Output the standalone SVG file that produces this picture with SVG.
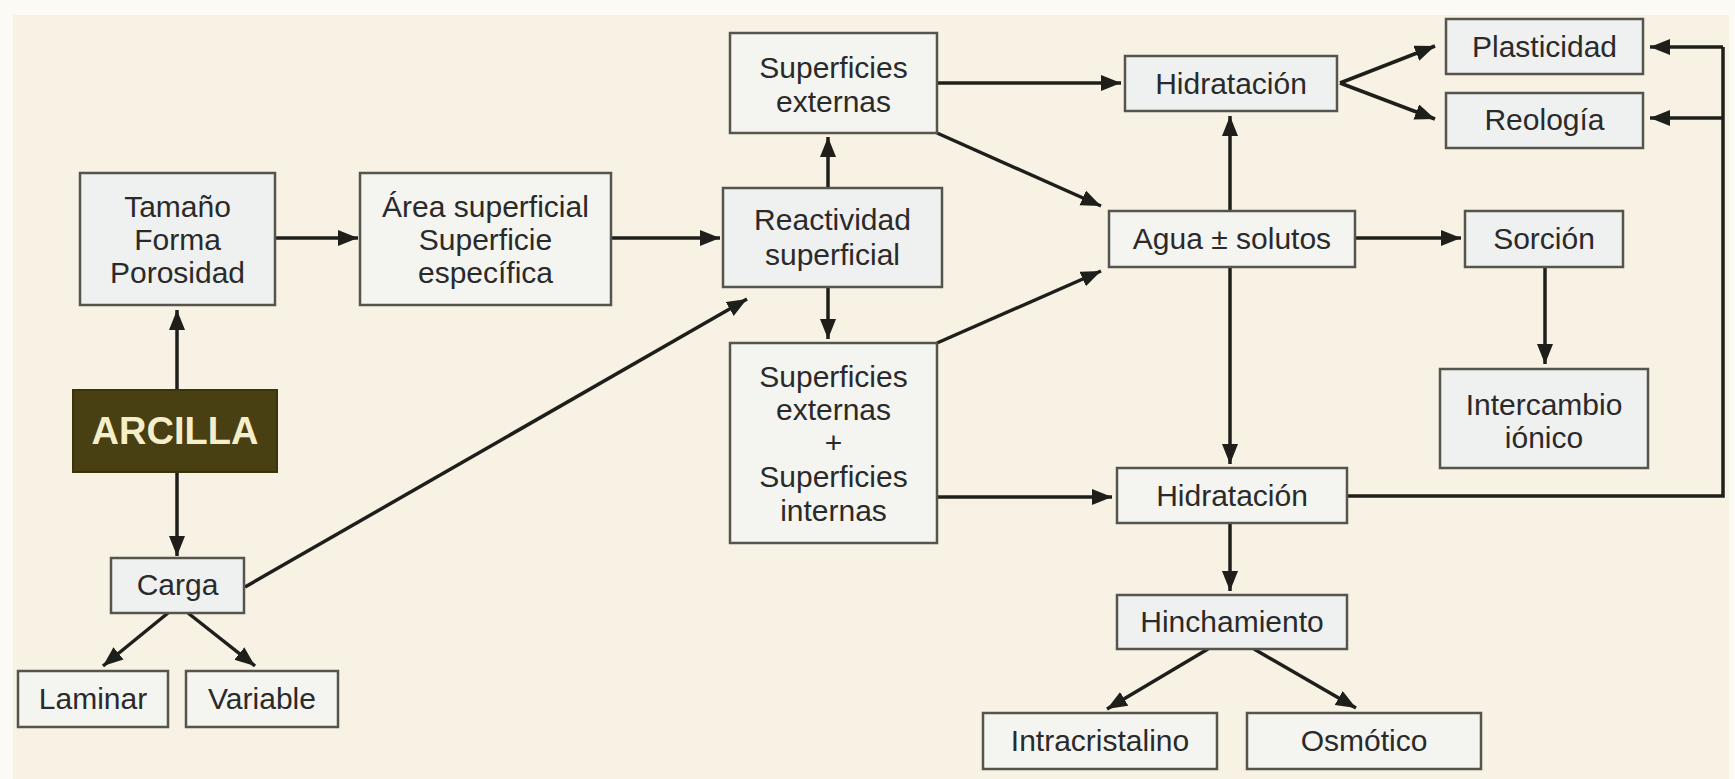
<svg xmlns="http://www.w3.org/2000/svg" width="1735" height="779" viewBox="0 0 1735 779">
<defs>
<marker id="ah" markerUnits="userSpaceOnUse" markerWidth="22" markerHeight="18" refX="20" refY="8" orient="auto">
<path d="M0,0 L20,8 L0,16 z" fill="#1e1e1a"/>
</marker>
<style>
.box{fill:#eff0f0;stroke:#55554d;stroke-width:2.5}
.box2{fill:#f4f4f0;stroke:#55554d;stroke-width:2.5}
.t{font-family:"Liberation Sans",Arial,sans-serif;font-size:30px;fill:#2a2a2a;text-anchor:middle}
.c{fill:none;stroke:#1e1e1a;stroke-width:3.5}
.a{fill:none;stroke:#1e1e1a;stroke-width:3.5;marker-end:url(#ah)}
</style>
</defs>
<rect x="0" y="0" width="1735" height="779" fill="#fbfaf4"/>
<rect x="13" y="15" width="1716" height="764" fill="#f7f2e3"/>

<g id="connectors">
<line class="a" x1="177" y1="390" x2="177" y2="310"/>
<line class="a" x1="177" y1="472" x2="177" y2="556"/>
<line class="a" x1="275" y1="238" x2="358" y2="238"/>
<line class="a" x1="611" y1="238" x2="720" y2="238"/>
<line class="a" x1="828" y1="188" x2="828" y2="137"/>
<line class="a" x1="828" y1="287" x2="828" y2="339"/>
<line class="a" x1="245" y1="587" x2="747" y2="299"/>
<line class="a" x1="168" y1="613" x2="103" y2="666"/>
<line class="a" x1="188" y1="613" x2="255" y2="666"/>
<line class="a" x1="937" y1="83" x2="1121" y2="83"/>
<line class="a" x1="937" y1="133" x2="1101" y2="206"/>
<line class="a" x1="937" y1="343" x2="1101" y2="271"/>
<line class="a" x1="937" y1="497" x2="1112" y2="497"/>
<line class="a" x1="1230" y1="211" x2="1230" y2="116"/>
<line class="a" x1="1230" y1="267" x2="1230" y2="464"/>
<line class="a" x1="1355" y1="238" x2="1461" y2="238"/>
<line class="a" x1="1545" y1="267" x2="1545" y2="364"/>
<line class="a" x1="1340" y1="83" x2="1435" y2="46"/>
<line class="a" x1="1340" y1="83" x2="1435" y2="119"/>
<path class="c" d="M1347,496 H1723 V47"/>
<line class="a" x1="1723" y1="47" x2="1650" y2="47"/>
<line class="a" x1="1723" y1="118" x2="1650" y2="118"/>
<line class="a" x1="1230" y1="523" x2="1230" y2="591"/>
<line class="a" x1="1208" y1="649" x2="1107" y2="709"/>
<line class="a" x1="1254" y1="649" x2="1356" y2="708"/>
</g>

<g id="arcilla">
<rect x="73" y="390" width="204" height="82" fill="#483f12" stroke="#3a330c" stroke-width="2"/>
<text x="175" y="444" font-family="Liberation Sans, Arial, sans-serif" font-size="38" font-weight="bold" fill="#f4efca" text-anchor="middle">ARCILLA</text>
</g>
<g id="tamano">
<rect class="box" x="80" y="173" width="195" height="132"/>
<text class="t" x="177.5" y="217">Tamaño</text>
<text class="t" x="177.5" y="250">Forma</text>
<text class="t" x="177.5" y="283">Porosidad</text>
</g>
<g id="area">
<rect class="box2" x="360" y="173" width="251" height="132"/>
<text class="t" x="485.5" y="217">Área superficial</text>
<text class="t" x="485.5" y="250">Superficie</text>
<text class="t" x="485.5" y="283">específica</text>
</g>
<g id="supext">
<rect class="box2" x="730" y="33" width="207" height="100"/>
<text class="t" x="833.5" y="78">Superficies</text>
<text class="t" x="833.5" y="112">externas</text>
</g>
<g id="reactividad">
<rect class="box" x="723" y="188" width="219" height="99"/>
<text class="t" x="832.5" y="230">Reactividad</text>
<text class="t" x="832.5" y="265">superficial</text>
</g>
<g id="supextint">
<rect class="box2" x="730" y="343" width="207" height="200"/>
<text class="t" x="833.5" y="387">Superficies</text>
<text class="t" x="833.5" y="420">externas</text>
<text class="t" x="833.5" y="453">+</text>
<text class="t" x="833.5" y="487">Superficies</text>
<text class="t" x="833.5" y="521">internas</text>
</g>
<g id="hidratacion1">
<rect class="box" x="1125" y="56" width="212" height="55"/>
<text class="t" x="1231" y="94">Hidratación</text>
</g>
<g id="plasticidad">
<rect class="box" x="1446" y="19" width="197" height="55"/>
<text class="t" x="1544.5" y="57">Plasticidad</text>
</g>
<g id="reologia">
<rect class="box" x="1446" y="93" width="197" height="55"/>
<text class="t" x="1544.5" y="130">Reología</text>
</g>
<g id="agua">
<rect class="box2" x="1109" y="211" width="246" height="56"/>
<text class="t" x="1232" y="249">Agua ± solutos</text>
</g>
<g id="sorcion">
<rect class="box" x="1465" y="211" width="158" height="56"/>
<text class="t" x="1544" y="249">Sorción</text>
</g>
<g id="intercambio">
<rect class="box" x="1440" y="369" width="208" height="99"/>
<text class="t" x="1544" y="415">Intercambio</text>
<text class="t" x="1544" y="448">iónico</text>
</g>
<g id="hidratacion2">
<rect class="box2" x="1117" y="468" width="230" height="55"/>
<text class="t" x="1232" y="506">Hidratación</text>
</g>
<g id="hinchamiento">
<rect class="box" x="1117" y="595" width="230" height="54"/>
<text class="t" x="1232" y="632">Hinchamiento</text>
</g>
<g id="intracristalino">
<rect class="box2" x="983" y="713" width="234" height="56"/>
<text class="t" x="1100" y="751">Intracristalino</text>
</g>
<g id="osmotico">
<rect class="box2" x="1247" y="713" width="234" height="56"/>
<text class="t" x="1364" y="751">Osmótico</text>
</g>
<g id="carga">
<rect class="box" x="111" y="558" width="133" height="55"/>
<text class="t" x="177.5" y="595">Carga</text>
</g>
<g id="laminar">
<rect class="box2" x="18" y="671" width="150" height="56"/>
<text class="t" x="93" y="709">Laminar</text>
</g>
<g id="variable">
<rect class="box2" x="186" y="671" width="152" height="56"/>
<text class="t" x="262" y="709">Variable</text>
</g>
</svg>
